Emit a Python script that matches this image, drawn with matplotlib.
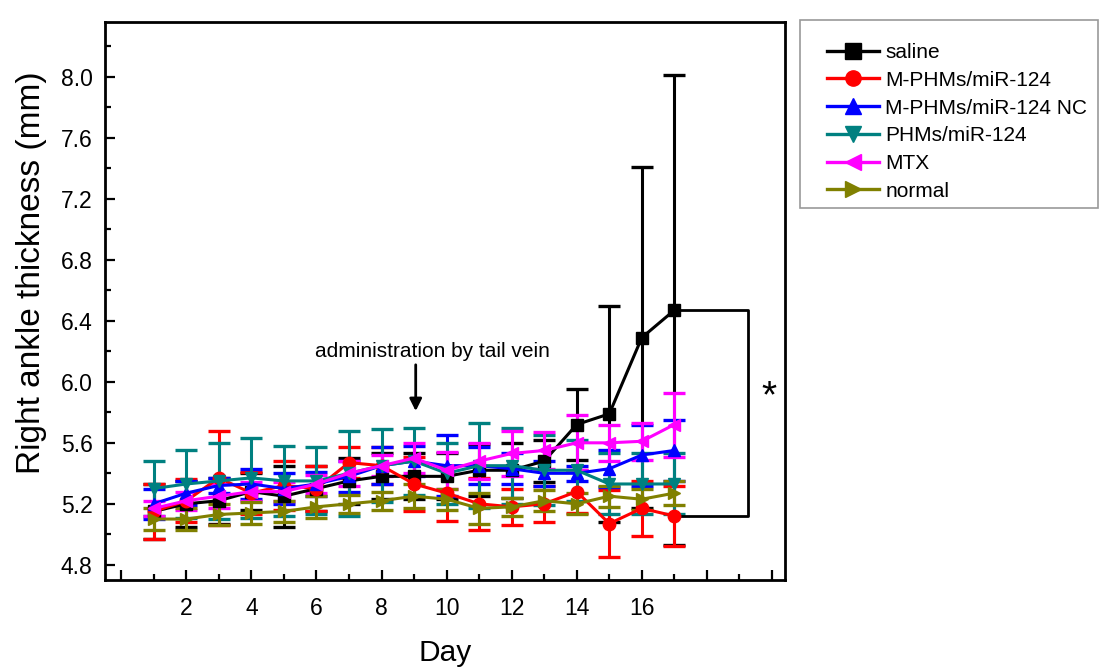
import matplotlib
matplotlib.use("Agg")
import matplotlib.pyplot as plt
from matplotlib.lines import Line2D
from matplotlib.patches import Rectangle
from matplotlib.ticker import MultipleLocator, FixedLocator, FixedFormatter, FormatStrFormatter

plt.rcParams['font.family'] = ['Liberation Sans', 'DejaVu Sans']

days = list(range(1, 18))

saline = [5.15, 5.20, 5.22, 5.28, 5.25, 5.30, 5.35, 5.38, 5.38, 5.38, 5.42, 5.42, 5.48, 5.72, 5.79, 6.29, 6.47]
saline_err = [0.18, 0.15, 0.15, 0.12, 0.2, 0.15, 0.15, 0.15, 0.15, 0.15, 0.17, 0.18, 0.14, 0.23, 0.71, 1.12, 1.54]

mphm = [5.15, 5.22, 5.37, 5.27, 5.32, 5.30, 5.47, 5.45, 5.33, 5.27, 5.20, 5.18, 5.20, 5.28, 5.07, 5.17, 5.12]
mphm_err = [0.18, 0.14, 0.31, 0.14, 0.16, 0.15, 0.1, 0.12, 0.18, 0.18, 0.17, 0.12, 0.12, 0.14, 0.22, 0.18, 0.2]

mphm_nc = [5.20, 5.27, 5.32, 5.33, 5.30, 5.33, 5.38, 5.45, 5.48, 5.45, 5.45, 5.43, 5.40, 5.40, 5.43, 5.52, 5.55]
mphm_nc_err = [0.1, 0.08, 0.05, 0.1, 0.1, 0.08, 0.1, 0.12, 0.1, 0.2, 0.12, 0.1, 0.08, 0.05, 0.12, 0.2, 0.2]

phm = [5.30, 5.33, 5.35, 5.37, 5.35, 5.35, 5.40, 5.45, 5.48, 5.40, 5.45, 5.45, 5.42, 5.42, 5.33, 5.33, 5.33]
phm_err = [0.18, 0.22, 0.25, 0.26, 0.23, 0.22, 0.28, 0.24, 0.22, 0.2, 0.28, 0.25, 0.23, 0.2, 0.2, 0.2, 0.2]

mtx = [5.17, 5.22, 5.25, 5.28, 5.28, 5.33, 5.40, 5.45, 5.50, 5.42, 5.48, 5.53, 5.55, 5.60, 5.60, 5.61, 5.72]
mtx_err = [0.05, 0.06, 0.08, 0.06, 0.06, 0.06, 0.08, 0.07, 0.1, 0.12, 0.12, 0.15, 0.12, 0.18, 0.12, 0.12, 0.21]

normal = [5.10, 5.10, 5.13, 5.14, 5.15, 5.18, 5.20, 5.22, 5.25, 5.23, 5.17, 5.18, 5.22, 5.20, 5.25, 5.23, 5.27]
normal_err = [0.07, 0.07, 0.07, 0.07, 0.07, 0.07, 0.06, 0.06, 0.08, 0.07, 0.1, 0.06, 0.07, 0.07, 0.07, 0.07, 0.08]

series = [
    ("saline", saline, saline_err, "black", "s"),
    ("M-PHMs/miR-124", mphm, mphm_err, "#ff0000", "o"),
    ("M-PHMs/miR-124 NC", mphm_nc, mphm_nc_err, "#0000ff", "^"),
    ("PHMs/miR-124", phm, phm_err, "#008080", "v"),
    ("MTX", mtx, mtx_err, "#ff00ff", "<"),
    ("normal", normal, normal_err, "#808000", ">"),
]

W, H = 1102, 668
fig = plt.figure(figsize=(W / 100, H / 100), dpi=100)
ax = fig.add_axes([0.0953, 0.1317, 0.617, 0.8353])

handles = []
for name, vals, errs, col, mk in series:
    ax.errorbar(days, vals, yerr=errs, color=col, marker=mk, markersize=9,
                linewidth=2.2, elinewidth=2.2, capsize=8, capthick=2.4)
    handles.append(Line2D([], [], color=col, marker=mk, markersize=11,
                          linewidth=2.4, label=name))

ax.set_xlim(-0.5, 20.4)
ax.set_ylim(4.7, 8.36)

ax.xaxis.set_major_locator(FixedLocator(list(range(0, 21, 2))))
ax.xaxis.set_major_formatter(FixedFormatter(["", "2", "4", "6", "8", "10", "12", "14", "16", "", ""]))
ax.xaxis.set_minor_locator(MultipleLocator(1))
ax.yaxis.set_major_locator(MultipleLocator(0.4))
ax.yaxis.set_minor_locator(MultipleLocator(0.2))
ax.yaxis.set_major_formatter(FormatStrFormatter("%.1f"))

ax.tick_params(which="major", direction="in", length=7, width=1.6, labelsize=16.5)
ax.tick_params(axis="x", which="major", pad=12)
ax.tick_params(axis="y", which="major", pad=9)
ax.tick_params(which="minor", direction="in", length=4, width=1.6)
for sp in ax.spines.values():
    sp.set_linewidth(2)

ax.set_xlabel("Day", fontsize=21.5, labelpad=14)
ax.set_ylabel("Right ankle thickness (mm)", fontsize=24)
ax.yaxis.set_label_coords(-0.086, 0.55)

# drug administration marker
ax.annotate("", xy=(9.05, 5.79), xytext=(9.05, 6.13),
            arrowprops=dict(arrowstyle="-|>", color="black", lw=2, mutation_scale=18))
ax.text(9.55, 6.2, "administration by tail vein", ha="center", va="center", fontsize=15)

# significance bracket between saline and treated groups on day 17
ax.plot([17, 19.25, 19.25, 17], [6.47, 6.47, 5.12, 5.12], color="black", lw=2)
ax.text(19.9, 5.9, "*", ha="center", va="center", fontsize=28)

# legend box drawn separately so its extent is fixed in figure pixels
box_l, box_r, box_t, box_b = 800, 1098, 20, 208
fig.patches.append(Rectangle((box_l / W, 1 - box_b / H), (box_r - box_l) / W,
                             (box_b - box_t) / H, transform=fig.transFigure,
                             facecolor="white", edgecolor="#999999", linewidth=1.2))
leg = fig.legend(handles=handles, loc="upper left",
                 bbox_to_anchor=(827 / W, 1 - 43 / H),
                 fontsize=15, frameon=False, handlelength=2.5,
                 borderpad=0, labelspacing=0.42, handletextpad=0.3,
                 borderaxespad=0)

fig.savefig("out.png", dpi=100)
